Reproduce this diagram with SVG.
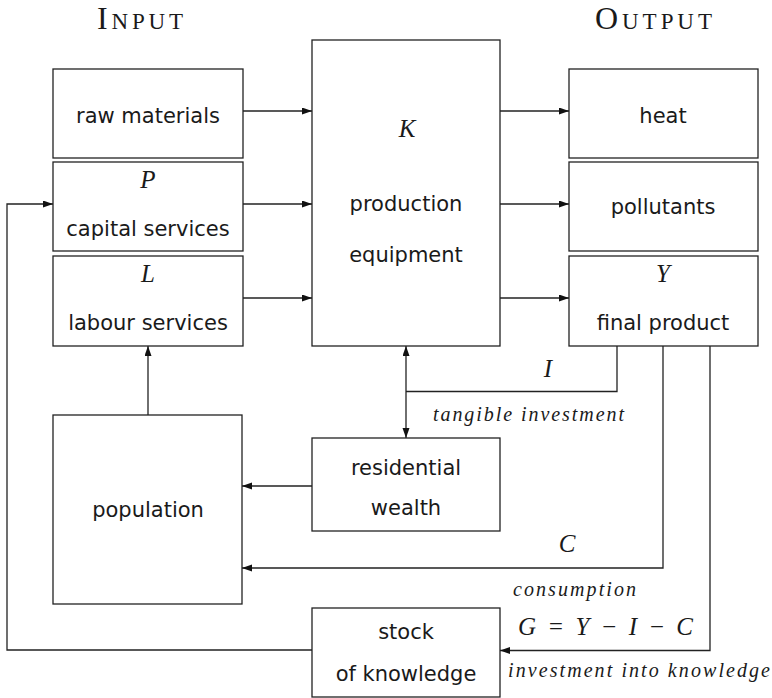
<svg xmlns="http://www.w3.org/2000/svg" width="772" height="698" viewBox="0 0 772 698">
<style>
.box{fill:#fff;stroke:#222;stroke-width:1.3}
.t{font-family:"DejaVu Sans","Liberation Sans",sans-serif;font-size:21px;fill:#1a1a1a;text-anchor:middle}
.m{font-family:"Liberation Serif","DejaVu Serif",serif;font-style:italic;font-size:25px;fill:#1a1a1a;text-anchor:middle}
.it{font-family:"Liberation Serif","DejaVu Serif",serif;font-style:italic;font-size:20px;fill:#1a1a1a}
.h{font-family:"Liberation Serif","DejaVu Serif",serif;fill:#1a1a1a}
.c{fill:none;stroke:#222;stroke-width:1.3}
.a{marker-end:url(#ah)}
</style>
<defs>
<marker id="ah" markerUnits="userSpaceOnUse" markerWidth="11" markerHeight="8" refX="10" refY="3.5" orient="auto-start-reverse">
<path d="M0,0 L10,3.5 L0,7 z" fill="#111"/>
</marker>
</defs>
<rect width="772" height="698" fill="#fff"/>
<text class="h" x="97" y="29" textLength="86" lengthAdjust="spacing"><tspan font-size="32">I</tspan><tspan font-size="23">NPUT</tspan></text>
<text class="h" x="595" y="29" textLength="117" lengthAdjust="spacing"><tspan font-size="32">O</tspan><tspan font-size="23">UTPUT</tspan></text>

<g id="connectors">
<line class="c a" x1="243" y1="111" x2="312" y2="111"/>
<line class="c a" x1="243" y1="204" x2="312" y2="204"/>
<line class="c a" x1="243" y1="298" x2="312" y2="298"/>
<line class="c a" x1="500" y1="111" x2="569" y2="111"/>
<line class="c a" x1="500" y1="204" x2="569" y2="204"/>
<line class="c a" x1="500" y1="298" x2="569" y2="298"/>
<line class="c a" x1="148" y1="415" x2="148" y2="346"/>
<line class="c a" x1="312" y1="486" x2="242" y2="486"/>
<line class="c" x1="406" y1="346" x2="406" y2="438" marker-start="url(#ah)" marker-end="url(#ah)"/>
<polyline class="c" points="617,346 617,391.5 406,391.5"/>
<polyline class="c a" points="663,346 663,568 242,568"/>
<polyline class="c a" points="710,346 710,650.5 500,650.5"/>
<polyline class="c a" points="312,650 7,650 7,204 53,204"/>
</g>

<g id="raw-materials"><rect class="box" x="53" y="69" width="190" height="89"/><text class="t" x="148" y="123">raw materials</text></g>
<g id="capital-services"><rect class="box" x="53" y="162" width="190" height="89"/><text class="m" x="148" y="188">P</text><text class="t" x="148" y="236">capital services</text></g>
<g id="labour-services"><rect class="box" x="53" y="256" width="190" height="90"/><text class="m" x="148" y="282">L</text><text class="t" x="148" y="330">labour services</text></g>
<g id="production-equipment"><rect class="box" x="312" y="40" width="188" height="306"/><text class="m" x="407" y="137">K</text><text class="t" x="406" y="211">production</text><text class="t" x="406" y="262">equipment</text></g>
<g id="heat"><rect class="box" x="569" y="69" width="189" height="89"/><text class="t" x="663" y="123">heat</text></g>
<g id="pollutants"><rect class="box" x="569" y="162" width="189" height="89"/><text class="t" x="663" y="214">pollutants</text></g>
<g id="final-product"><rect class="box" x="569" y="256" width="189" height="90"/><text class="m" x="663" y="282">Y</text><text class="t" x="663" y="330">final product</text></g>
<g id="residential-wealth"><rect class="box" x="312" y="438" width="188" height="93"/><text class="t" x="406" y="475">residential</text><text class="t" x="406" y="515">wealth</text></g>
<g id="population"><rect class="box" x="53" y="415" width="189" height="189"/><text class="t" x="148" y="517">population</text></g>
<g id="stock-of-knowledge"><rect class="box" x="312" y="608" width="188" height="89"/><text class="t" x="406" y="639">stock</text><text class="t" x="406" y="681">of knowledge</text></g>

<g id="labels">
<text class="m" x="548" y="377">I</text>
<text class="it" x="433" y="421" textLength="191" lengthAdjust="spacing">tangible investment</text>
<text class="m" x="567" y="552">C</text>
<text class="it" x="513" y="596" textLength="123" lengthAdjust="spacing">consumption</text>
<text class="m" x="518" y="635" style="text-anchor:start" textLength="175" lengthAdjust="spacing">G = Y − I − C</text>
<text class="it" x="508" y="677" textLength="262" lengthAdjust="spacing">investment into knowledge</text>
</g>
</svg>
